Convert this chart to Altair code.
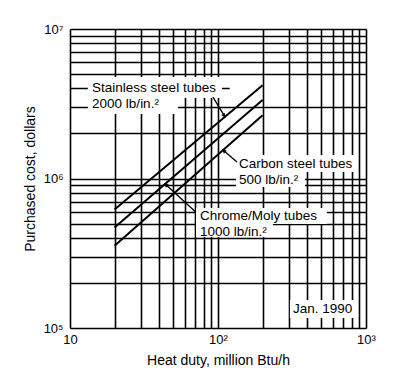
import altair as alt
import pandas as pd

# ---- data ----
heat_duty_ends = [20, 200]
stainless = [6.2e5, 4.2e6]
chrome_moly = [4.7e5, 3.35e6]
carbon = [3.55e5, 2.65e6]

x_grid = [10, 20, 30, 40, 50, 60, 70, 80, 90, 100, 200, 300, 400, 500, 600, 700, 800, 900, 1000]
y_grid = [1e5, 2e5, 3e5, 4e5, 5e5, 6e5, 7e5, 8e5, 9e5,
          1e6, 2e6, 3e6, 5e6, 6e6, 7e6, 8e6, 9e6, 1e7]

# partial grid line (4e6) acting as leader for the stainless label
leader_x = [10, 120]
leader_y = [4e6, 4e6]

label_text = ["Stainless steel tubes", "2000 lb/in.\u00b2",
              "Carbon steel tubes", "500 lb/in.\u00b2",
              "Chrome/Moly tubes", "1000 lb/in.\u00b2",
              "Jan. 1990"]
label_x = [14.1, 14.1, 138.7, 138.7, 75.5, 75.5, 321]
label_y = [4.0e6, 3.15e6, 1.25e6, 9.77e5, 5.61e5, 4.42e5, 1.34e5]

box_x = [13.2, 13.2, 132.3, 132.3, 71.0, 71.0, 306]
box_x2 = [106.4, 53.7, 855, 387, 545, 235, 855]
box_y = [4.77e6, 3.456e6, 1.436e6, 1.105e6, 6.35e5, 4.96e5, 1.54e5]
box_y2 = [3.456e6, 2.70e6, 1.105e6, 8.77e5, 4.96e5, 4.06e5, 1.167e5]

arrow_x = [92.5, 134.3, 71.0]
arrow_y = [3.5e6, 1.29e6, 5.95e5]
arrow_x2 = [111.0, 108.1, 43.9]
arrow_y2 = [2.6e6, 1.55e6, 9.18e5]
arrow_angle = [145, 311, 310]

FONT = "Liberation Sans"

lines_df = pd.DataFrame({
    "duty": heat_duty_ends * 3,
    "cost": stainless + chrome_moly + carbon,
    "series": ["Stainless"] * 2 + ["Chrome/Moly"] * 2 + ["Carbon"] * 2,
})
leader_df = pd.DataFrame({"x": [leader_x[0]], "x2": [leader_x[1]], "y": [leader_y[0]]})
labels_df = pd.DataFrame({"text": label_text, "x": label_x, "y": label_y})
boxes_df = pd.DataFrame({"x": box_x, "x2": box_x2, "y": box_y, "y2": box_y2})
arrows_df = pd.DataFrame({"x": arrow_x, "y": arrow_y, "x2": arrow_x2, "y2": arrow_y2,
                          "angle": arrow_angle})

xscale = alt.Scale(type="log", domain=[10, 1000], nice=False)
yscale = alt.Scale(type="log", domain=[1e5, 1e7], nice=False)

x_axis = alt.Axis(
    values=x_grid, grid=True, gridColor="black", gridWidth=1.6, gridOpacity=1,
    ticks=False, domain=False, labelOverlap=False, labelFlush=False,
    labelExpr="datum.value == 10 ? '10' : datum.value == 100 ? '10\u00b2' : datum.value == 1000 ? '10\u00b3' : ''",
    labelFont=FONT, labelFontSize=13, labelColor="black", labelPadding=5,
    title="Heat duty, million Btu/h", titleFont=FONT, titleFontSize=14,
    titleFontWeight="normal", titleColor="black", titlePadding=7,
)
y_axis = alt.Axis(
    values=y_grid, grid=True, gridColor="black", gridWidth=1.6, gridOpacity=1,
    ticks=False, domain=False, labelOverlap=False, labelFlush=False,
    labelExpr="datum.value == 100000 ? '10\u2075' : datum.value == 1000000 ? '10\u2076' : datum.value == 10000000 ? '10\u2077' : ''",
    labelFont=FONT, labelFontSize=13, labelColor="black", labelPadding=7,
    title="Purchased cost, dollars", titleFont=FONT, titleFontSize=14,
    titleFontWeight="normal", titleColor="black", titlePadding=6,
)

lines = alt.Chart(lines_df).mark_line(color="black", strokeWidth=2, clip=True).encode(
    x=alt.X("duty:Q", scale=xscale, axis=x_axis),
    y=alt.Y("cost:Q", scale=yscale, axis=y_axis),
    detail="series:N",
)

leader = alt.Chart(leader_df).mark_rule(color="black", strokeWidth=1.6).encode(
    x=alt.X("x:Q", scale=xscale), x2="x2:Q", y=alt.Y("y:Q", scale=yscale)
)

boxes = alt.Chart(boxes_df).mark_rect(color="white", opacity=1).encode(
    x=alt.X("x:Q", scale=xscale), x2="x2:Q",
    y=alt.Y("y:Q", scale=yscale), y2="y2:Q",
)

arrows = alt.Chart(arrows_df).mark_rule(color="black", strokeWidth=1.3).encode(
    x=alt.X("x:Q", scale=xscale), x2="x2:Q",
    y=alt.Y("y:Q", scale=yscale), y2="y2:Q",
)

heads = alt.Chart(arrows_df).mark_point(
    shape="M -0.45 1 L 0 0 L 0.45 1", filled=False, color="black",
    strokeWidth=1.3, size=40, opacity=1,
).encode(
    x=alt.X("x2:Q", scale=xscale), y=alt.Y("y2:Q", scale=yscale),
    angle=alt.Angle("angle:Q", scale=None),
)

texts = alt.Chart(labels_df).mark_text(
    align="left", baseline="middle", font=FONT, fontSize=13.5, color="black"
).encode(
    x=alt.X("x:Q", scale=xscale), y=alt.Y("y:Q", scale=yscale), text="text:N"
)

chart = alt.layer(leader, boxes, lines, arrows, heads, texts).properties(
    width=296, height=299,
    autosize=alt.AutoSizeParams(type="none"),
    padding={"left": 62, "top": 21, "right": 26, "bottom": 40},
).configure_view(stroke=None).configure(background="white")

chart.save("out.html", embed_options={"renderer": "svg", "actions": False})
